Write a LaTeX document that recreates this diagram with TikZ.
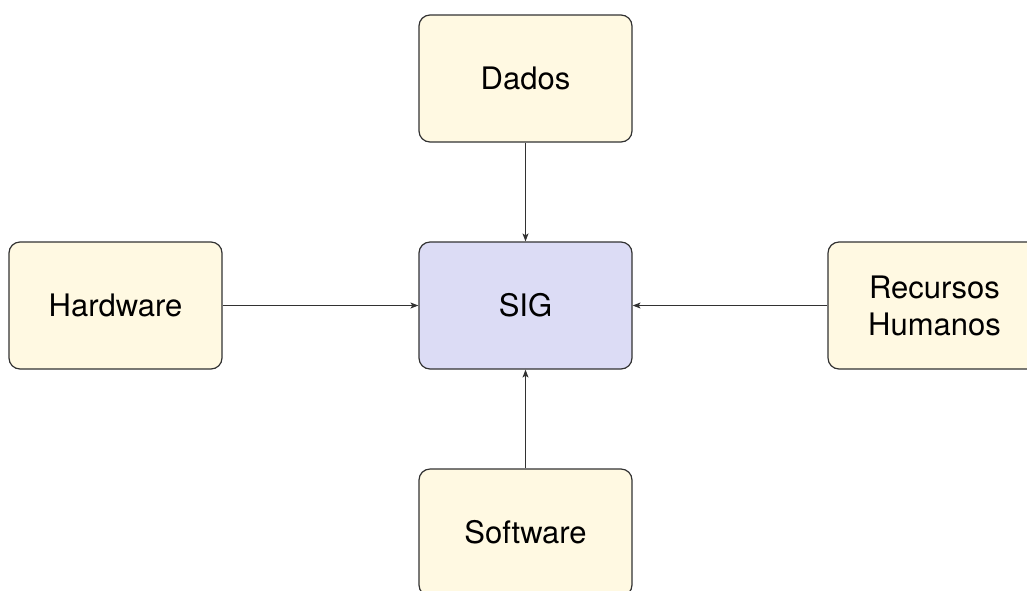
\documentclass[tikz,border=0pt]{standalone}
\usepackage{fontspec}
\setmainfont{TeX Gyre Heros}
\usetikzlibrary{arrows.meta}
\definecolor{partfill}{RGB}{255,249,226}
\definecolor{corefill}{RGB}{220,220,245}
\definecolor{edgegray}{RGB}{50,50,50}
\tikzset{
  x=1pt, y=-1pt,
  box/.style={draw=edgegray, line width=1.2pt, rounded corners=11pt,
    minimum width=213pt, minimum height=127pt, inner sep=0pt,
    align=center, font=\fontsize{31}{37}\selectfont, fill=partfill},
  core/.style={box, fill=corefill},
  link/.style={draw=edgegray, line width=1pt,
    -{Stealth[length=8pt,width=6pt,inset=2pt]}}
}
\begin{document}
\begin{tikzpicture}
  \useasboundingbox (0,0) rectangle (1027,590);
  \clip (0,0) rectangle (1027,590);
  \node[core] (sig) at (525.5,305.5) {SIG};
  \node[box] (dados) at (525.5,78.5) {Dados};
  \node[box] (hw) at (115.5,305.5) {Hardware};
  \node[box] (rh) at (934.5,305.5) {Recursos\\Humanos};
  \node[box] (sw) at (525.5,532.5) {Software};
  \draw[link] (dados) -- (sig);
  \draw[link] (hw) -- (sig);
  \draw[link] (rh) -- (sig);
  \draw[link] (sw) -- (sig);
\end{tikzpicture}
\end{document}
